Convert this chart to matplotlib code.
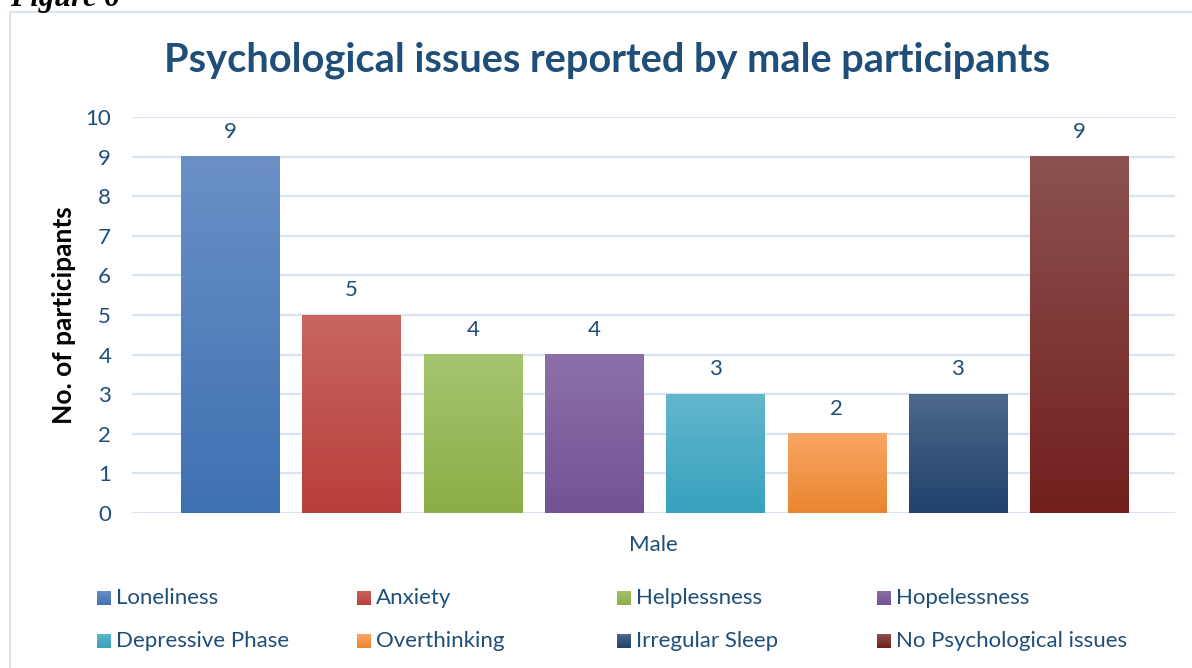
import numpy as np
import matplotlib
matplotlib.use("Agg")
import matplotlib.pyplot as plt
from matplotlib.colors import LinearSegmentedColormap
from matplotlib.patches import Rectangle

# Data
categories = ["Loneliness", "Anxiety", "Helplessness", "Hopelessness",
              "Depressive Phase", "Overthinking", "Irregular Sleep",
              "No Psychological issues"]
counts = [9, 5, 4, 4, 3, 2, 3, 9]
group_label = "Male"
yticks = list(range(0, 11))

# Gradient end colours for each bar (top, bottom)
top_colors = ["#6A90C6", "#C8665F", "#A6C46F", "#8D70A8",
              "#62B6CD", "#F9A665", "#4D6889", "#8B5250"]
bottom_colors = ["#3E71B2", "#B83E3B", "#8AAE47", "#735295",
                 "#38A1BE", "#EA852F", "#20426D", "#721F1D"]

TEXT_BLUE = "#1F4E79"
GRID = "#D9E3F2"
FS = 16

plt.rcParams['font.family'] = ['Lato', 'DejaVu Sans']

W, H = 1192, 668
fig = plt.figure(figsize=(W / 100, H / 100), dpi=100)

# Chart frame
fig.patches.append(Rectangle((10 / W, -0.1), 2, 1.1 - 12 / H,
                             transform=fig.transFigure, fill=False,
                             edgecolor="#D3DEEE", lw=1.2, zorder=0))

fig.text(10 / W, 1 - 6 / H, "Figure 6", family="Liberation Serif",
         fontweight="bold", fontstyle="italic", fontsize=22,
         va="baseline", ha="left", color="black")

ax = fig.add_axes([132 / W, 155 / H, 1043 / W, 396 / H])
x = np.arange(len(categories))
width = 0.81
bars = ax.bar(x, counts, width=width, color="none", zorder=3)

grad = np.linspace(1, 0, 256).reshape(-1, 1)
for bar, top, bot in zip(bars, top_colors, bottom_colors):
    cmap = LinearSegmentedColormap.from_list("bar", [bot, top])
    x0, y0 = bar.get_x(), bar.get_y()
    w, h = bar.get_width(), bar.get_height()
    ax.imshow(grad, cmap=cmap, vmin=0, vmax=1, aspect="auto",
              extent=[x0, x0 + w, y0, y0 + h], zorder=3,
              interpolation="bilinear")

for xi, v in zip(x, counts):
    ax.annotate(str(v), (xi, v), xytext=(0, 18), textcoords="offset points",
                ha="center", va="center", fontsize=FS, color=TEXT_BLUE)

ax.set_xlim(-0.81, 7.79)
ax.set_ylim(0, 10)
ax.set_yticks(yticks)
ax.set_xticks([])
ax.yaxis.grid(True, color=GRID, lw=1.6)
ax.set_axisbelow(True)
for s in ax.spines.values():
    s.set_visible(False)
ax.tick_params(axis="y", length=0, pad=15, labelsize=FS, labelcolor=TEXT_BLUE)

ax.set_xlabel(group_label, fontsize=FS, color=TEXT_BLUE, labelpad=16)
ax.set_ylabel("No. of participants", fontsize=19, fontweight="bold",
              color="black")
ax.yaxis.set_label_coords((76 - 132) / 1043, 0.5)

fig.text(607.5 / W, 1 - 60 / H, "Psychological issues reported by male participants",
         ha="center", va="center", fontsize=28.6, fontweight="bold",
         color=TEXT_BLUE)

# Legend laid out as a 4 x 2 grid
for i, (lab, top, bot) in enumerate(zip(categories, top_colors, bottom_colors)):
    col, row = i % 4, i // 4
    mx = 97 + 260 * col
    my = 598 + 43 * row
    cmap = LinearSegmentedColormap.from_list("leg", [bot, top])
    sw = fig.add_axes([mx / W, (H - my - 7) / H, 14 / W, 14 / H])
    sw.imshow(grad, cmap=cmap, vmin=0, vmax=1, aspect="auto")
    sw.set_axis_off()
    fig.text((mx + 19) / W, 1 - my / H, lab, ha="left", va="center",
             fontsize=FS, color=TEXT_BLUE)

fig.savefig("out.png", dpi=100)
